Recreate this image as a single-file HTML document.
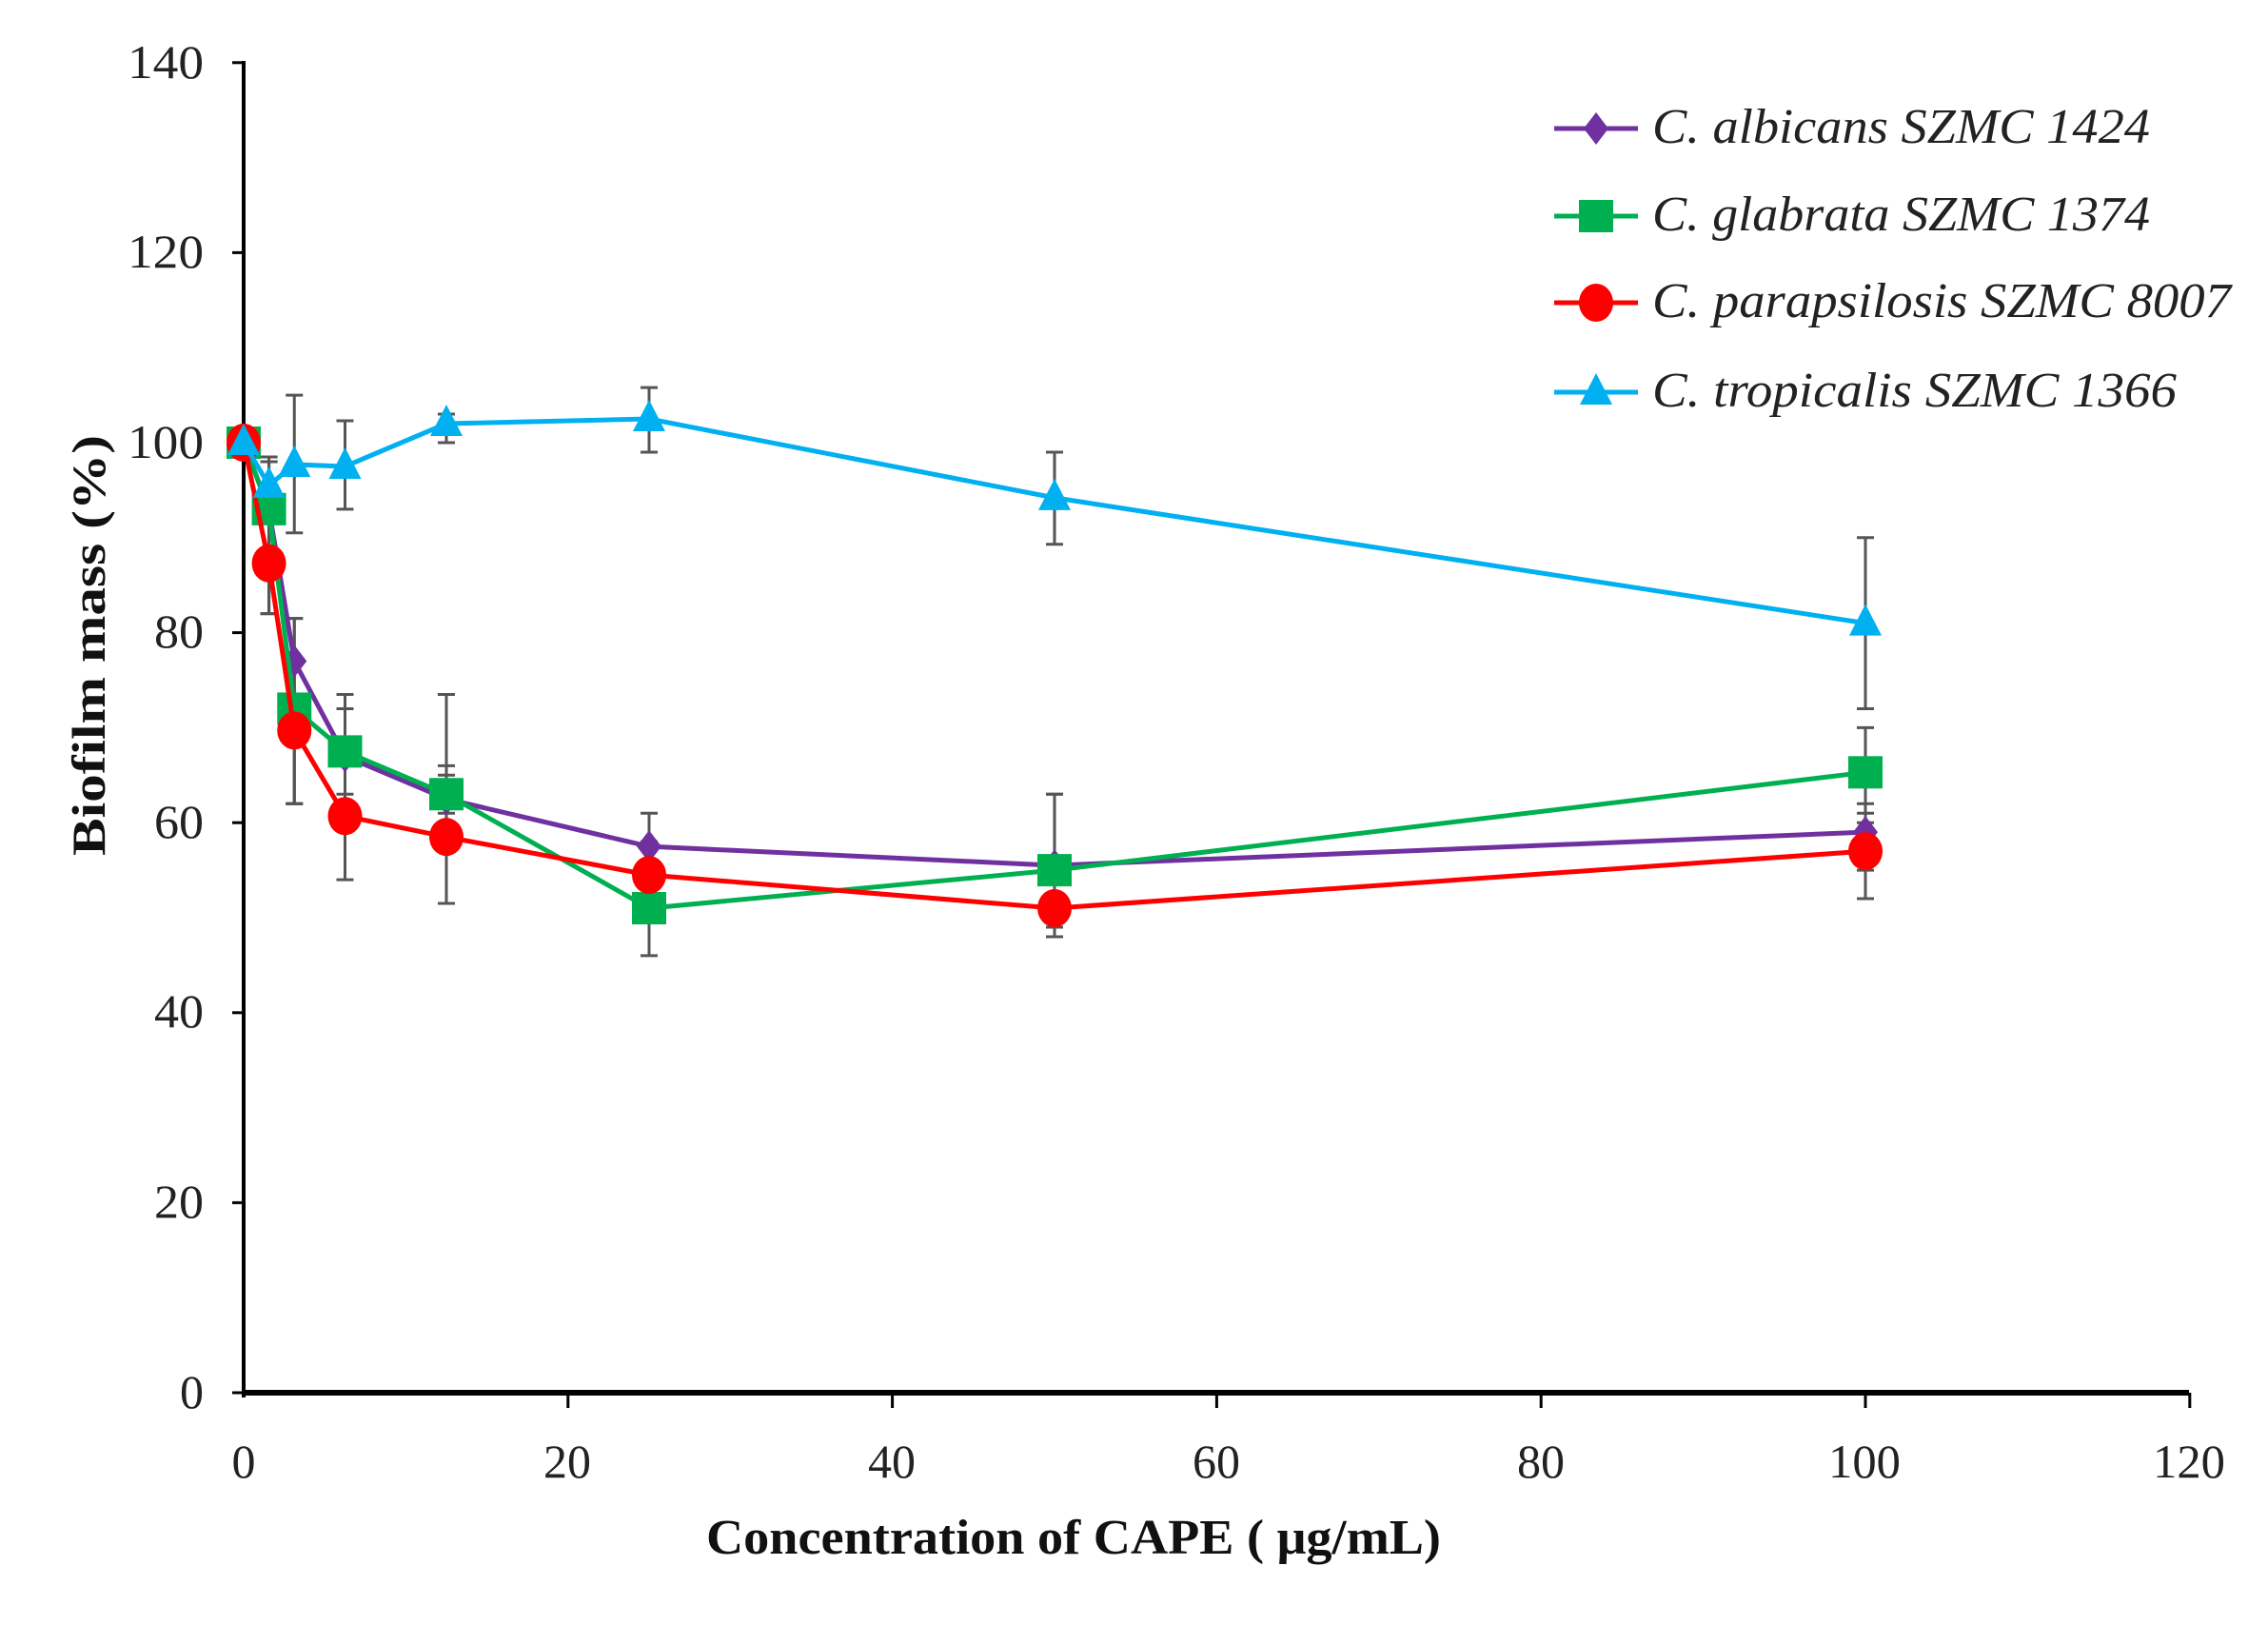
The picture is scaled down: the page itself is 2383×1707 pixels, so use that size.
<!DOCTYPE html>
<html><head><meta charset="utf-8"><style>
html,body{margin:0;padding:0;background:#fff;}
svg{display:block;}
</style></head><body>
<svg id="s" width="2383" height="1707" viewBox="0 0 2383 1707" xmlns="http://www.w3.org/2000/svg">
<rect width="2383" height="1707" fill="#fff"/>
<g font-family="Liberation Serif, serif" font-size="50" fill="#222" text-anchor="end">
<text x="214" y="82" textLength="80" lengthAdjust="spacingAndGlyphs">140</text>
<text x="214" y="281" textLength="80" lengthAdjust="spacingAndGlyphs">120</text>
<text x="214" y="481" textLength="80" lengthAdjust="spacingAndGlyphs">100</text>
<text x="214" y="680" textLength="52" lengthAdjust="spacingAndGlyphs">80</text>
<text x="214" y="880" textLength="52" lengthAdjust="spacingAndGlyphs">60</text>
<text x="214" y="1079" textLength="52" lengthAdjust="spacingAndGlyphs">40</text>
<text x="214" y="1279" textLength="52" lengthAdjust="spacingAndGlyphs">20</text>
<text x="214" y="1479">0</text>
</g>
<g font-family="Liberation Serif, serif" font-size="50" fill="#222" text-anchor="middle">
<text x="256" y="1552">0</text>
<text x="596" y="1552" textLength="50" lengthAdjust="spacingAndGlyphs">20</text>
<text x="937" y="1552" textLength="50" lengthAdjust="spacingAndGlyphs">40</text>
<text x="1278" y="1552" textLength="50" lengthAdjust="spacingAndGlyphs">60</text>
<text x="1619" y="1552" textLength="50" lengthAdjust="spacingAndGlyphs">80</text>
<text x="1959" y="1552" textLength="76" lengthAdjust="spacingAndGlyphs">100</text>
<text x="2300" y="1552" textLength="76" lengthAdjust="spacingAndGlyphs">120</text>
</g>
<text x="1128" y="1632" font-family="Liberation Serif, serif" font-weight="bold" font-size="52" text-anchor="middle" fill="#111" textLength="772" lengthAdjust="spacingAndGlyphs">Concentration of CAPE ( μg/mL)</text>
<text transform="translate(110,678) rotate(-90)" font-family="Liberation Serif, serif" font-weight="bold" font-size="50" text-anchor="middle" fill="#111" textLength="442" lengthAdjust="spacingAndGlyphs">Biofilm mass (%)</text>
<g stroke="#000" stroke-width="4">
<line x1="256" y1="64" x2="256" y2="1468"/>
<line x1="254" y1="1463" x2="2300" y2="1463" stroke-width="6"/>
</g>
<g id="ticks" stroke="#000" stroke-width="3"></g>
<g id="err" stroke="#555" stroke-width="3"></g>
<g id="ser"></g>
<g font-family="Liberation Serif, serif" font-style="italic" font-size="52" fill="#222">
<text x="1736" y="150" textLength="523" lengthAdjust="spacingAndGlyphs">C. albicans SZMC 1424</text>
<text x="1736" y="242" textLength="523" lengthAdjust="spacingAndGlyphs">C. glabrata SZMC 1374</text>
<text x="1736" y="333" textLength="608" lengthAdjust="spacingAndGlyphs">C. parapsilosis SZMC 8007</text>
<text x="1736" y="427" textLength="551" lengthAdjust="spacingAndGlyphs">C. tropicalis SZMC 1366</text>
</g>
<g id="leg"></g>
</svg>
<script>
var NS="http://www.w3.org/2000/svg";
function X(v){return 256+v*17.04;}
function Y(v){return 1463-v*9.98;}
function el(p,t,a){var e=document.createElementNS(NS,t);for(var k in a)e.setAttribute(k,a[k]);document.getElementById(p).appendChild(e);return e;}
for(var i=0;i<=7;i++){var y=Y(i*20);el('ticks','line',{x1:244,y1:y,x2:256,y2:y});}
for(var i=1;i<=6;i++){var x=X(i*20);el('ticks','line',{x1:x,y1:1463,x2:x,y2:1479});}
var xs=[0,1.56,3.125,6.25,12.5,25,50,100];
var S=[
{c:"#7030A0",m:"d",v:[100,93,77,67,62.5,57.5,55.5,59],e:[[100,100],[82,98],[62,81.5],[63,72],[61,66],[54,61],[48,63],[55,62]]},
{c:"#00B050",m:"s",v:[100,93,72,67.5,63,51,55,65.3],e:[[100,100],[82,98],[62,81.5],[62,73.5],[51.5,73.5],[46,56],[49,63],[61,70]]},
{c:"#FF0000",m:"c",v:[100,87.3,69.7,60.7,58.5,54.5,51,57],e:[[100,100],[82,92],[62,77],[54,67],[51.5,65],[50,58],[48,54],[52,60]]},
{c:"#00B0F0",m:"t",v:[100,95.5,97.7,97.5,102,102.5,94.2,81],e:[[100,100],[93,98.5],[90.5,105],[93,102.3],[100,103],[99,105.8],[89.3,99],[72,90]]}
];
function mark(p,m,x,y,c){
 if(m=="d")el(p,'polygon',{points:(x)+","+(y-17)+" "+(x+13)+","+y+" "+x+","+(y+17)+" "+(x-13)+","+y,fill:c});
 else if(m=="s")el(p,'rect',{x:x-18,y:y-17,width:36,height:34,fill:c});
 else if(m=="c")el(p,'ellipse',{cx:x,cy:y,rx:18,ry:20,fill:c});
 else el(p,'polygon',{points:x+","+(y-20)+" "+(x+17)+","+(y+13)+" "+(x-17)+","+(y+13),fill:c});
}
S.forEach(function(s){s.e.forEach(function(e,i){if(e[0]==e[1])return;var x=X(xs[i]);
 el('err','line',{x1:x,y1:Y(e[0]),x2:x,y2:Y(e[1])});
 el('err','line',{x1:x-9,y1:Y(e[0]),x2:x+9,y2:Y(e[0])});
 el('err','line',{x1:x-9,y1:Y(e[1]),x2:x+9,y2:Y(e[1])});});});
S.forEach(function(s){var pts=s.v.map(function(v,i){return X(xs[i])+","+Y(v);}).join(" ");
 el('ser','polyline',{points:pts,fill:"none",stroke:s.c,"stroke-width":5});
 s.v.forEach(function(v,i){mark('ser',s.m,X(xs[i]),Y(v),s.c);});});
var ly=[135,227,318,412];
S.forEach(function(s,i){el('leg','line',{x1:1633,y1:ly[i],x2:1721,y2:ly[i],stroke:s.c,"stroke-width":5});mark('leg',s.m,1677,ly[i],s.c);});
</script>
</body></html>
